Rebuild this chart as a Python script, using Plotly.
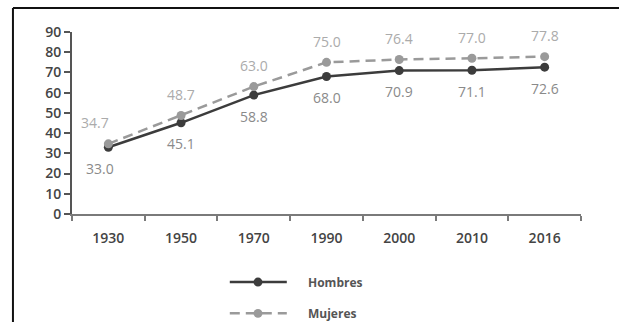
import plotly.graph_objects as go

# Life expectancy by sex, selected years
years = ["1930", "1950", "1970", "1990", "2000", "2010", "2016"]
hombres = [33.0, 45.1, 58.8, 68.0, 70.9, 71.1, 72.6]
mujeres = [34.7, 48.7, 63.0, 75.0, 76.4, 77.0, 77.8]
y_ticks = [0, 10, 20, 30, 40, 50, 60, 70, 80, 90]

FONT = "Open Sans"
C_H = "#3c3c3c"
C_M = "#9a9a9a"
DASH = "10px,6px"

fig = go.Figure()

fig.add_trace(go.Scatter(
    x=years, y=hombres, name="Hombres", mode="lines+markers",
    line=dict(color=C_H, width=2.5),
    marker=dict(color=C_H, size=9),
))
fig.add_trace(go.Scatter(
    x=years, y=mujeres, name="Mujeres", mode="lines+markers",
    line=dict(color=C_M, width=2.5, dash=DASH),
    marker=dict(color=C_M, size=9),
))

# value labels: women above the points, men below
# (x given as category index so the year strings are not read as numbers)
for i, (h, m) in enumerate(zip(hombres, mujeres)):
    dx_m = -13 if i == 0 else 0
    dx_h = -8 if i == 0 else 0
    fig.add_annotation(x=i, y=m, text=f"{m:.1f}", showarrow=False,
                       yshift=21, xshift=dx_m,
                       font=dict(family=FONT, size=14, color="#ababab"))
    fig.add_annotation(x=i, y=h, text=f"{h:.1f}", showarrow=False,
                       yshift=-21, xshift=dx_h,
                       font=dict(family=FONT, size=14, color="#8a8a8a"))

# outer frame (left and top edges)
fig.add_shape(type="line", xref="paper", yref="paper",
              x0=-0.116, x1=-0.116, y0=-0.62, y1=1.132,
              line=dict(color="#111", width=2))
fig.add_shape(type="line", xref="paper", yref="paper",
              x0=-0.116, x1=1.1, y0=1.132, y1=1.132,
              line=dict(color="#111", width=2))

# key below the chart: sample line + dot + name for each series
key_rows = [("Hombres", C_H, "solid", -0.374), ("Mujeres", C_M, DASH, -0.546)]
for name, color, dash, ky in key_rows:
    fig.add_shape(type="line", xref="paper", yref="paper",
                  x0=0.310, x1=0.422, y0=ky, y1=ky,
                  line=dict(color=color, width=2.5, dash=dash))
    fig.add_shape(type="circle", xref="paper", yref="paper",
                  x0=0.3654 - 0.0088, x1=0.3654 + 0.0088,
                  y0=ky - 0.0247, y1=ky + 0.0247,
                  fillcolor=color, line=dict(color=color, width=0))
    fig.add_annotation(xref="paper", yref="paper", x=0.460, y=ky,
                       xanchor="left", yanchor="middle", showarrow=False,
                       text=name,
                       font=dict(family=FONT, size=12, color="#555",
                                 weight="bold"))

fig.update_layout(
    width=619, height=322,
    margin=dict(l=72, r=38, t=32, b=108),
    paper_bgcolor="white", plot_bgcolor="white",
    font=dict(family=FONT),
    showlegend=False,
    xaxis=dict(
        type="category", range=[-0.5, 6.5],
        showline=True, linecolor="#7a7a7a", linewidth=2,
        ticks="outside", tickson="boundaries", ticklen=5,
        tickcolor="#7a7a7a", tickwidth=1.5, ticklabelstandoff=10,
        showgrid=False, zeroline=False,
        tickfont=dict(family=FONT, size=14, color="#444", weight=600),
    ),
    yaxis=dict(
        range=[0, 90], tickvals=y_ticks,
        showline=True, linecolor="#555", linewidth=2,
        ticks="outside", ticklen=6, tickcolor="#555", tickwidth=1.5,
        showgrid=False, zeroline=False,
        tickfont=dict(family=FONT, size=14, color="#444", weight=600),
    ),
)

fig.write_html("out.html")
